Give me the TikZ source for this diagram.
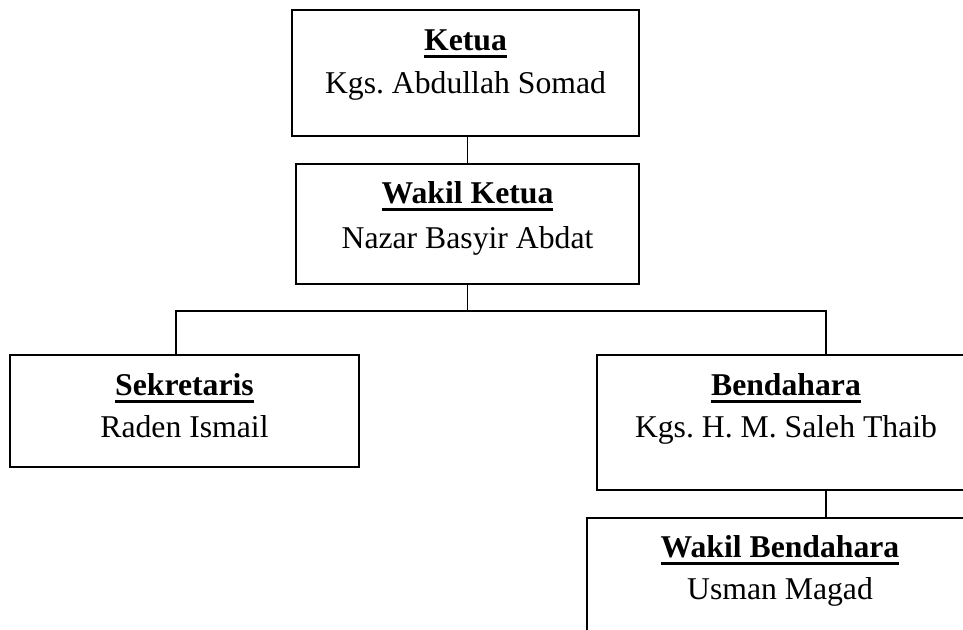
\documentclass[tikz,border=0pt]{standalone}
\usepackage{fontspec}
\setmainfont{Liberation Serif}
\frenchspacing
\newcommand\ulbox[1]{\setbox0\hbox{#1}\rlap{\rule[-8pt]{\wd0}{2.6pt}}\box0}
\tikzset{
  box/.style={draw=black, line width=1.8pt, rectangle, inner sep=0pt},
  lbl/.style={anchor=base, inner sep=0pt, font=\fontsize{31.7}{38}\selectfont},
  conn/.style={draw=black, line width=1.8pt}
}
\begin{document}
\begin{tikzpicture}[x=1pt, y=-1pt]
\useasboundingbox (0,0) rectangle (963,629);
\clip (0,0) rectangle (963,629);
% boxes
\node[box, minimum width=347pt, minimum height=126pt] (ketua) at (465.5,73) {};
\node[box, minimum width=343pt, minimum height=120pt] (wakil) at (467.5,224) {};
\node[box, minimum width=349pt, minimum height=112pt] (sek) at (184.5,411) {};
\node[box, minimum width=378pt, minimum height=135pt] (bend) at (786,422.5) {};
\node[box, minimum width=386pt, minimum height=132pt] (wb) at (780,584) {};
% texts
\node[lbl] (ketuaT) at (465.5,50) {\ulbox{\bfseries Ketua}};
\node[lbl] (ketuaN) at (465.5,93) {Kgs. Abdullah Somad};
\node[lbl] (wakilT) at (467.5,203) {\ulbox{\bfseries Wakil Ketua}};
\node[lbl] (wakilN) at (467.5,248) {Nazar Basyir Abdat};
\node[lbl] (sekT) at (184.5,395) {\ulbox{\bfseries Sekretaris}};
\node[lbl] (sekN) at (184.5,437) {Raden Ismail};
\node[lbl] (bendT) at (786,395) {\ulbox{\bfseries Bendahara}};
\node[lbl] (bendN) at (786,437) {Kgs. H. M. Saleh Thaib};
\node[lbl] (wbT) at (780,557) {\ulbox{\bfseries Wakil Bendahara}};
\node[lbl] (wbN) at (780,599) {Usman Magad};
% connectors
\coordinate (jl) at (176,311);
\coordinate (jr) at (826,311);
\draw[conn] (wakil.north) -- (wakil.north |- ketua.south);
\draw[conn] (wakil.south) |- (jl) -- (jl |- sek.north);
\draw[conn] (wakil.south) |- (jr) -- (jr |- bend.north);
\draw[conn] (jr |- bend.south) -- (jr |- wb.north);
\end{tikzpicture}
\end{document}
